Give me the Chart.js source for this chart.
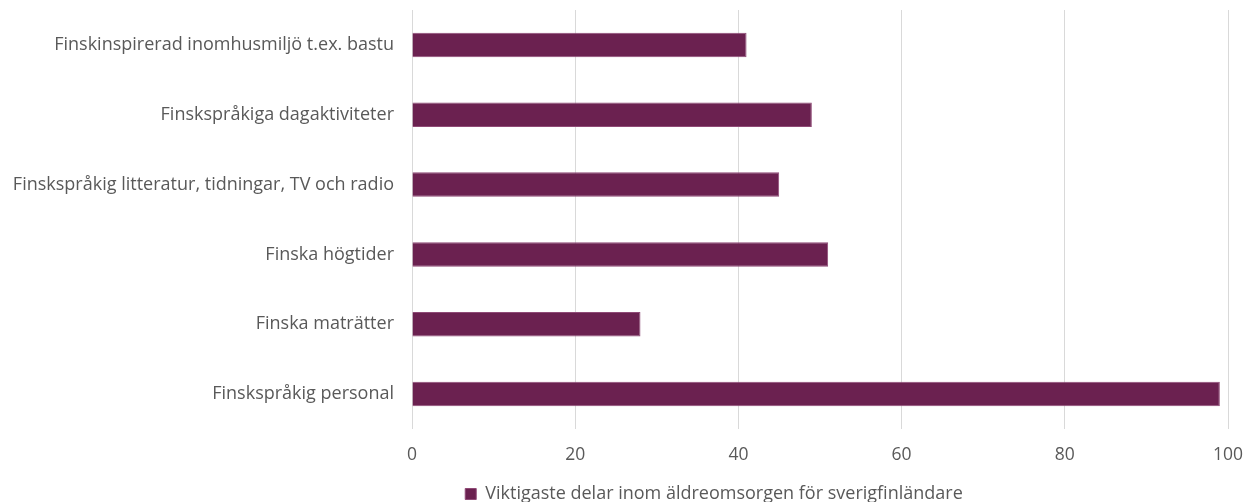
<!DOCTYPE html>
<html>
<head>
<meta charset="utf-8">
<script src="https://cdn.jsdelivr.net/npm/chart.js@4/dist/chart.umd.min.js"></script>
<style>
  html, body { margin: 0; padding: 0; background: #fff; }
  #wrap { width: 1244px; height: 502px; }
</style>
</head>
<body>
<div id="wrap"><canvas id="grafico"></canvas></div>
<script>
const kategorier = [
  "Finskinspirerad inomhusmiljö t.ex. bastu",
  "Finskspråkiga dagaktiviteter",
  "Finskspråkig litteratur, tidningar, TV och radio",
  "Finska högtider",
  "Finska maträtter",
  "Finskspråkig personal"
];
const varden = [41, 49, 45, 51, 28, 99];
const serieNamn = "Viktigaste delar inom äldreomsorgen för sverigfinländare";

const textFarg = "#595959";
const typsnitt = "'Open Sans', 'Noto Sans', sans-serif";

// legenden lite lägre och förskjuten åt höger, som i originalet
const legendJustering = {
  id: "legendJustering",
  beforeInit(chart) {
    const fit = chart.legend.fit;
    chart.legend.fit = function () {
      fit.call(this);
      this.height -= 11;
    };
  },
  afterLayout(chart) {
    chart.legend.left += 100;
    chart.legend.right += 100;
  }
};

const ctx = document.getElementById("grafico").getContext("2d");
new Chart(ctx, {
  type: "bar",
  data: {
    labels: kategorier,
    datasets: [{
      label: serieNamn,
      data: varden,
      backgroundColor: "#6B2150",
      borderColor: "#8f4a76",
      borderWidth: 1,
      barPercentage: 0.5,
      categoryPercentage: 0.7
    }]
  },
  options: {
    indexAxis: "y",
    responsive: true,
    maintainAspectRatio: false,
    animation: false,
    layout: { padding: { top: 10, right: 16, bottom: 0, left: 0 } },
    plugins: {
      legend: {
        position: "bottom",
        labels: {
          color: textFarg,
          font: { family: typsnitt, size: 18 },
          boxWidth: 11,
          boxHeight: 11,
          padding: 3
        }
      },
      tooltip: { enabled: false }
    },
    scales: {
      x: {
        min: 0,
        max: 100,
        afterFit: s => { s.paddingLeft = 0; s.paddingRight = 0; },
        ticks: {
          stepSize: 20,
          color: textFarg,
          font: { family: typsnitt, size: 17.5 },
          padding: 16
        },
        grid: { color: "#d9d9d9", drawTicks: false, lineWidth: 1 },
        border: { display: false }
      },
      y: {
        afterFit: s => { s.width = 412; s.paddingTop = 0; s.paddingBottom = 0; },
        ticks: {
          color: textFarg,
          font: { family: typsnitt, size: 18 },
          padding: 18
        },
        grid: { display: false, drawTicks: false },
        border: { display: false }
      }
    }
  },
  plugins: [legendJustering]
});
</script>
</body>
</html>
